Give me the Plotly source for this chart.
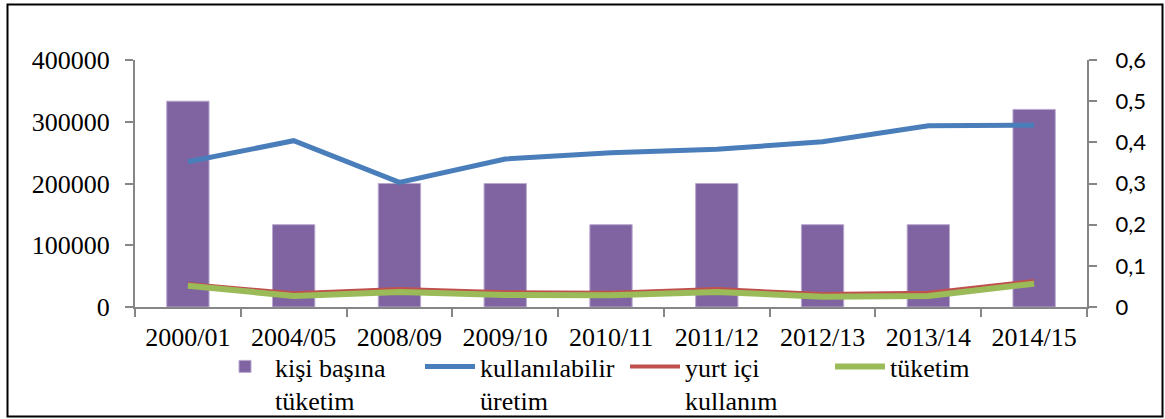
import plotly.graph_objects as go

categories = ["2000/01", "2004/05", "2008/09", "2009/10", "2010/11",
              "2011/12", "2012/13", "2013/14", "2014/15"]
kisi_basina_tuketim = [0.5, 0.2, 0.3, 0.3, 0.2, 0.3, 0.2, 0.2, 0.48]
kullanilabilir_uretim = [235300, 269300, 201900, 239700, 249900, 255400, 267700, 293600, 294300]
yurt_ici_kullanim = [37200, 22200, 29200, 23800, 23200, 29200, 21000, 23200, 42100]
tuketim = [34500, 17800, 24300, 19400, 18900, 24300, 16700, 17800, 37700]

left_ticks = [0, 100000, 200000, 300000, 400000]
right_tickvals = [0, 0.1, 0.2, 0.3, 0.4, 0.5, 0.6]
right_ticktext = ["0", "0,1", "0,2", "0,3", "0,4", "0,5", "0,6"]

W, H = 1165, 419
L, R, T, B = 135, 78, 60, 112
pw, ph = W - L - R, H - T - B

serif = "Liberation Serif"
sans = "Lato"
gray = "#868686"

fig = go.Figure()
fig.add_trace(go.Bar(
    x=categories, y=kisi_basina_tuketim, name="kişi başına<br>tüketim",
    marker=dict(color="#8064A2", line=dict(color="#B9A9CF", width=1)),
    yaxis="y", width=0.4,
))
fig.add_trace(go.Scatter(
    x=categories, y=kullanilabilir_uretim, name="kullanılabilir<br>üretim",
    mode="lines", line=dict(color="#4A7EBB", width=5), yaxis="y2",
))
fig.add_trace(go.Scatter(
    x=categories, y=yurt_ici_kullanim, name="yurt içi<br>kullanım",
    mode="lines", line=dict(color="#C0504D", width=4), yaxis="y2",
))
fig.add_trace(go.Scatter(
    x=categories, y=tuketim, name="tüketim",
    mode="lines", line=dict(color="#9BBB59", width=6), yaxis="y2",
))

def px_x(p):
    return (p - L) / pw

def px_y(p):
    return (H - B - p) / ph

fig.update_layout(
    width=W, height=H,
    margin=dict(l=L, r=R, t=T, b=B, pad=0, autoexpand=False),
    paper_bgcolor="white", plot_bgcolor="white",
    showlegend=True,
    bargap=0.6,
    xaxis=dict(
        type="category", showgrid=False, showline=True, linecolor=gray, linewidth=2,
        ticks="outside", ticklen=8, tickcolor=gray, tickwidth=2, tickson="boundaries",
        tickfont=dict(family=serif, size=26, color="black"),
        ticklabelstandoff=6, range=[-0.5, 8.5], zeroline=False, automargin=False,
    ),
    yaxis=dict(
        side="right", range=[0, 0.6], showgrid=False, zeroline=False,
        showline=True, linecolor=gray, linewidth=2,
        ticks="outside", ticklen=8, tickcolor=gray, tickwidth=2,
        tickvals=right_tickvals, ticktext=right_ticktext,
        tickfont=dict(family=sans, size=22, color="black"),
        ticklabelstandoff=14, automargin=False,
    ),
    yaxis2=dict(
        side="left", overlaying="y", range=[0, 400000], showgrid=False, zeroline=False,
        showline=True, linecolor=gray, linewidth=2,
        ticks="outside", ticklen=8, tickcolor=gray, tickwidth=2,
        tickvals=left_ticks, tickformat="d",
        tickfont=dict(family=serif, size=26, color="black"),
        ticklabelstandoff=10, automargin=False,
    ),
    legend=dict(
        orientation="h", x=px_x(215), xanchor="left", y=px_y(343), yanchor="top",
        font=dict(family=serif, size=26, color="black"),
        entrywidth=140, entrywidthmode="pixels", itemwidth=50, valign="top",
        bgcolor="rgba(0,0,0,0)", traceorder="normal",
    ),
    shapes=[dict(
        type="rect", xref="paper", yref="paper",
        x0=px_x(7.5), x1=px_x(1162.5), y0=px_y(416.5), y1=px_y(4.5),
        line=dict(color="black", width=2), fillcolor="rgba(0,0,0,0)", layer="below",
    )],
)

fig.write_html(
    "out.html",
    config={"displayModeBar": False},
    post_script="document.body.style.margin='0';document.body.style.overflow='hidden';",
)
